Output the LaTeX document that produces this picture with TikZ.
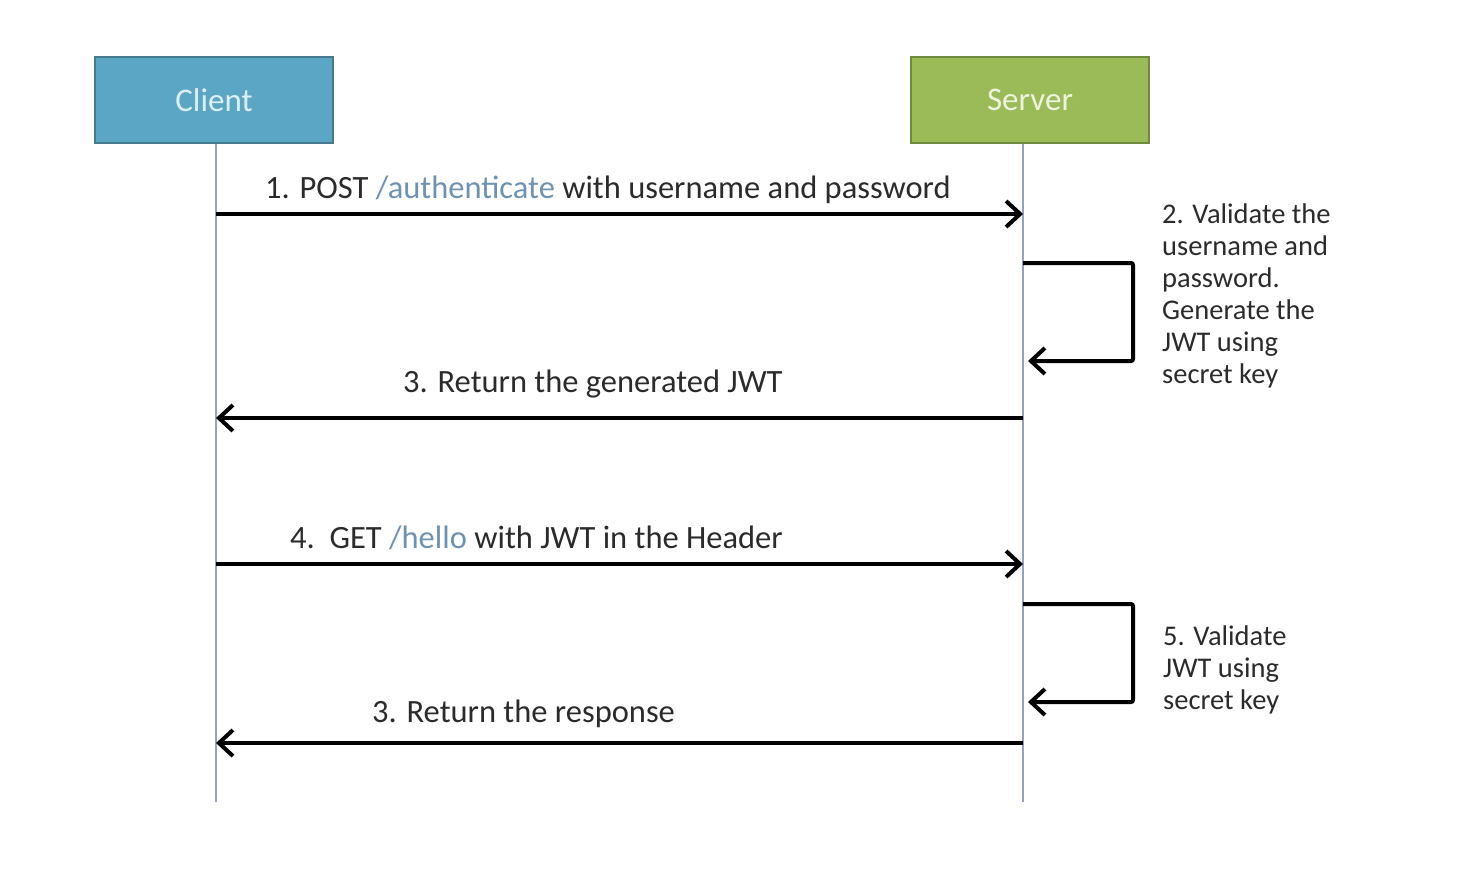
\documentclass[tikz,border=0pt]{standalone}
\usepackage{fontspec}
\setmainfont{Carlito}
\usetikzlibrary{arrows.meta}

\definecolor{clientfill}{HTML}{5BA6C5}
\definecolor{clientdraw}{HTML}{46788F}
\definecolor{clienttext}{HTML}{DCEFF4}
\definecolor{serverfill}{HTML}{9BBB59}
\definecolor{serverdraw}{HTML}{6F8A3C}
\definecolor{servertext}{HTML}{EEF3DE}
\definecolor{lifegray}{HTML}{93A3BA}
\definecolor{labelgray}{HTML}{2B2B2B}
\definecolor{pathblue}{HTML}{6E92B2}

\tikzset{
  actor/.style={line width=2pt, minimum width=238pt, minimum height=86pt,
    inner sep=0pt, font=\fontsize{33}{38}\selectfont},
  lifeline/.style={draw=lifegray, line width=1.5pt},
  msg/.style={line width=4pt, rounded corners=2pt,
    -{Straight Barb[length=14pt,width=26pt]}},
  msglabel/.style={anchor=base west, inner sep=0pt, text=labelgray,
    font=\fontsize{32.5}{38}\selectfont},
  notetext/.style={anchor=base west, inner sep=0pt, align=left, text=labelgray,
    font=\fontsize{28.5}{32}\selectfont}
}

\begin{document}
\begin{tikzpicture}[x=1pt,y=-1pt]
\useasboundingbox (0,0) rectangle (1460,870);

% actors
\node[actor, fill=clientfill, draw=clientdraw, text=clienttext] (client) at (214,100) {Client};
\node[actor, fill=serverfill, draw=serverdraw, text=servertext] (server) at (1030,100) {Server};

% lifelines
\coordinate (clientend) at (216,802);
\coordinate (serverend) at (1023,802);
\draw[lifeline] (client.south -| clientend) -- (clientend);
\draw[lifeline] (server.south -| serverend) -- (serverend);

% points on the lifelines
\coordinate (c1) at (216,214);  \coordinate (s1) at (1023,214);
\coordinate (s2) at (1023,263); \coordinate (s2r) at (1028,361);
\coordinate (c3) at (216,418);  \coordinate (s3) at (1023,418);
\coordinate (c4) at (216,564);  \coordinate (s4) at (1023,564);
\coordinate (s5) at (1023,604); \coordinate (s5r) at (1028,702);
\coordinate (c6) at (216,743);  \coordinate (s6) at (1023,743);

% messages
\draw[msg] (c1) -- (s1);
\node[msglabel] (auth) at (265,198) {1. POST \textcolor{pathblue}{/authenticate} with username and password};

\draw[msg] (s2) -- (1133,263) |- (s2r);
\node[notetext] (validate) at (1162,383) {2. Validate the\\username and\\password.\\Generate the\\JWT using\\secret key};

\draw[msg] (s3) -- (c3);
\node[msglabel] (token) at (403,392) {3. Return the generated JWT};

\draw[msg] (c4) -- (s4);
\node[msglabel] (hello) at (290,548) {4.\ \ GET \textcolor{pathblue}{/hello} with JWT in the Header};

\draw[msg] (s5) -- (1133,604) |- (s5r);
\node[notetext] (check) at (1163,709) {5. Validate\\JWT using\\secret key};

\draw[msg] (s6) -- (c6);
\node[msglabel] (response) at (372,722) {3. Return the response};
\end{tikzpicture}
\end{document}
